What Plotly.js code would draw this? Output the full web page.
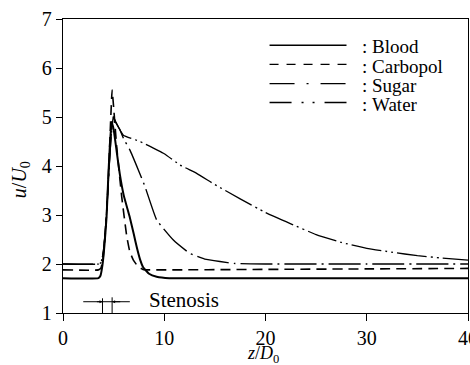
<!DOCTYPE html>
<html><head><meta charset="utf-8">
<script src="https://cdn.plot.ly/plotly-3.0.1.min.js"></script>
<style>html,body{margin:0;padding:0;background:#fff}#c{width:470px;height:365px}</style>
</head><body><div id="c"></div>
<script>
// Blood (solid)
const bloodZ = [0, 3.5, 3.7, 3.9, 4.1, 4.3, 4.5, 4.65, 4.8, 5.0, 5.3, 5.6, 6.0, 6.6, 7.0, 7.3, 7.6, 7.9, 8.5, 9.25, 10.5, 20, 30, 40];
const bloodU = [1.71, 1.71, 1.76, 1.98, 2.4, 2.95, 3.9, 4.5, 4.9, 4.75, 4.3, 3.85, 3.4, 2.95, 2.6, 2.33, 2.1, 1.94, 1.8, 1.74, 1.71, 1.71, 1.71, 1.71];
// Carbopol (dashed)
const carboZ = [0, 3.5, 3.75, 3.95, 4.15, 4.35, 4.55, 4.7, 4.85, 5.0, 5.3, 5.8, 6.3, 6.6, 6.95, 7.4, 7.9, 8.5, 20, 30, 40];
const carboU = [1.88, 1.88, 1.92, 2.1, 2.55, 3.2, 4.1, 4.9, 5.55, 5.2, 4.4, 3.37, 2.56, 2.25, 2.08, 1.95, 1.89, 1.88, 1.89, 1.9, 1.91];
// Sugar (dash-dot)
const sugarZ = [0, 3.55, 3.75, 3.95, 4.15, 4.35, 4.55, 4.75, 4.97, 5.2, 5.6, 6.0, 6.6, 7.44, 8.1, 9.25, 10.9, 12.5, 14, 15.5, 17, 20, 30, 40];
const sugarU = [2.0, 2.0, 2.03, 2.2, 2.6, 3.2, 3.95, 4.6, 5.0, 4.9, 4.75, 4.55, 4.33, 3.92, 3.58, 2.9, 2.49, 2.22, 2.1, 2.05, 2.01, 2.0, 2.0, 2.0];
// Water (dash-dot-dot)
const waterZ = [0, 3.55, 3.75, 3.95, 4.15, 4.35, 4.55, 4.75, 4.97, 5.24, 5.96, 7.6, 10, 11.56, 13.2, 15, 17.5, 20, 22.5, 25, 27.5, 30, 32.5, 35, 37.5, 40];
const waterU = [2.0, 2.0, 2.03, 2.2, 2.6, 3.2, 3.95, 4.6, 5.0, 4.88, 4.63, 4.5, 4.25, 4.02, 3.85, 3.62, 3.33, 3.05, 2.82, 2.6, 2.44, 2.32, 2.24, 2.17, 2.12, 2.08];

const seriesNames = ['Blood', 'Carbopol', 'Sugar', 'Water'];
const xTicks = [0, 10, 20, 30, 40];
const yTicks = [1, 2, 3, 4, 5, 6, 7];
const xTitle = '<i>z</i>/<i>D</i><sub>0</sub>';
const yTitle = '<i>u</i>/<i>U</i><sub>0</sub>';
// Stenosis marker (z/D0 positions)
const stenosisStart = 3.9, stenosisEnd = 4.85, stenosisArrowFrom = 2.0, stenosisArrowTo = 6.6, stenosisLevel = 1.23;

const FONT = 'Liberation Serif';
const dashes = ['solid', '10px,6px', '32px,5px,2px,5px', '30px,4px,2px,4px,2px,4px'];
const widths = [2, 1.6, 1.4, 1.3];
const legendDashes = ['solid', '9px,8px', '25px,12px,2px,12px', '22px,10px,2px,9px,2px,10px'];

const Z = [bloodZ, carboZ, sugarZ, waterZ], U = [bloodU, carboU, sugarU, waterU];
const traces = Z.map((z, i) => ({
  x: z, y: U[i], type: 'scatter', mode: 'lines', name: seriesNames[i],
  line: {color: '#000', width: widths[i], dash: dashes[i], shape: 'spline', smoothing: 0.35},
  showlegend: false, hoverinfo: 'skip'
}));

const shapes = [], annotations = [];
const legY = [0.905, 0.84, 0.774, 0.71];
seriesNames.forEach((n, i) => {
  shapes.push({type: 'line', xref: 'paper', yref: 'paper', x0: 0.51, x1: 0.70, y0: legY[i] + 0.006, y1: legY[i] + 0.006,
    line: {color: '#000', width: i === 0 ? 1.5 : 1.3, dash: legendDashes[i]}});
  annotations.push({xref: 'paper', yref: 'paper', x: 0.733, y: legY[i], xanchor: 'left', yanchor: 'middle',
    text: ':&nbsp;' + n, showarrow: false, font: {family: FONT, size: 19, color: '#000'}});
});
// Stenosis markers
shapes.push({type: 'line', xref: 'x', yref: 'y', x0: stenosisArrowFrom, x1: stenosisArrowTo, y0: stenosisLevel, y1: stenosisLevel, line: {color: '#000', width: 1}});
shapes.push({type: 'line', xref: 'x', yref: 'y', x0: stenosisStart, x1: stenosisStart, y0: 1, y1: 1.3, line: {color: '#000', width: 1}});
shapes.push({type: 'line', xref: 'x', yref: 'y', x0: stenosisEnd, x1: stenosisEnd, y0: 1, y1: 1.32, line: {color: '#000', width: 1}});
annotations.push({xref: 'x', yref: 'y', x: stenosisStart, y: stenosisLevel, ax: stenosisArrowFrom + 1.2, ay: stenosisLevel, axref: 'x', ayref: 'y',
  text: '', showarrow: true, arrowhead: 2, arrowsize: 0.6, arrowwidth: 1, arrowcolor: '#000'});
annotations.push({xref: 'x', yref: 'y', x: stenosisEnd, y: stenosisLevel, ax: stenosisArrowTo - 0.8, ay: stenosisLevel, axref: 'x', ayref: 'y',
  text: '', showarrow: true, arrowhead: 2, arrowsize: 0.6, arrowwidth: 1, arrowcolor: '#000'});
annotations.push({xref: 'x', yref: 'y', x: 8.3, y: 1.27, xanchor: 'left', yanchor: 'middle', text: 'Stenosis', showarrow: false,
  font: {family: FONT, size: 21, color: '#000'}});
// Axis titles
annotations.push({xref: 'paper', yref: 'paper', x: 0.494, y: -0.142, xanchor: 'center', yanchor: 'middle', text: xTitle, showarrow: false,
  font: {family: FONT, size: 18, color: '#000'}});
annotations.push({xref: 'paper', yref: 'paper', x: -0.106, y: 0.452, xanchor: 'center', yanchor: 'middle', text: yTitle, showarrow: false,
  textangle: -90, font: {family: FONT, size: 20, color: '#000'}});

const layout = {
  width: 470, height: 365,
  margin: {l: 63, r: 2, t: 19, b: 52},
  paper_bgcolor: '#fff', plot_bgcolor: '#fff',
  font: {family: FONT, color: '#000', size: 20},
  xaxis: {range: [0, 40], tickvals: xTicks, ticktext: xTicks.map(String), showgrid: false, zeroline: false,
    showline: true, mirror: true, linecolor: '#000', linewidth: 1.2, ticks: 'outside', ticklen: 7, tickcolor: '#000',
    ticklabeloverflow: 'allow', tickfont: {family: FONT, size: 20}},
  yaxis: {range: [1, 7], tickvals: yTicks, ticktext: yTicks.map(String), showgrid: false, zeroline: false,
    showline: true, mirror: true, linecolor: '#000', linewidth: 1.2, ticks: 'outside', ticklen: 6, tickcolor: '#000',
    tickfont: {family: FONT, size: 20}},
  shapes: shapes, annotations: annotations, showlegend: false
};
Plotly.newPlot('c', traces, layout, {staticPlot: true});
</script></body></html>
